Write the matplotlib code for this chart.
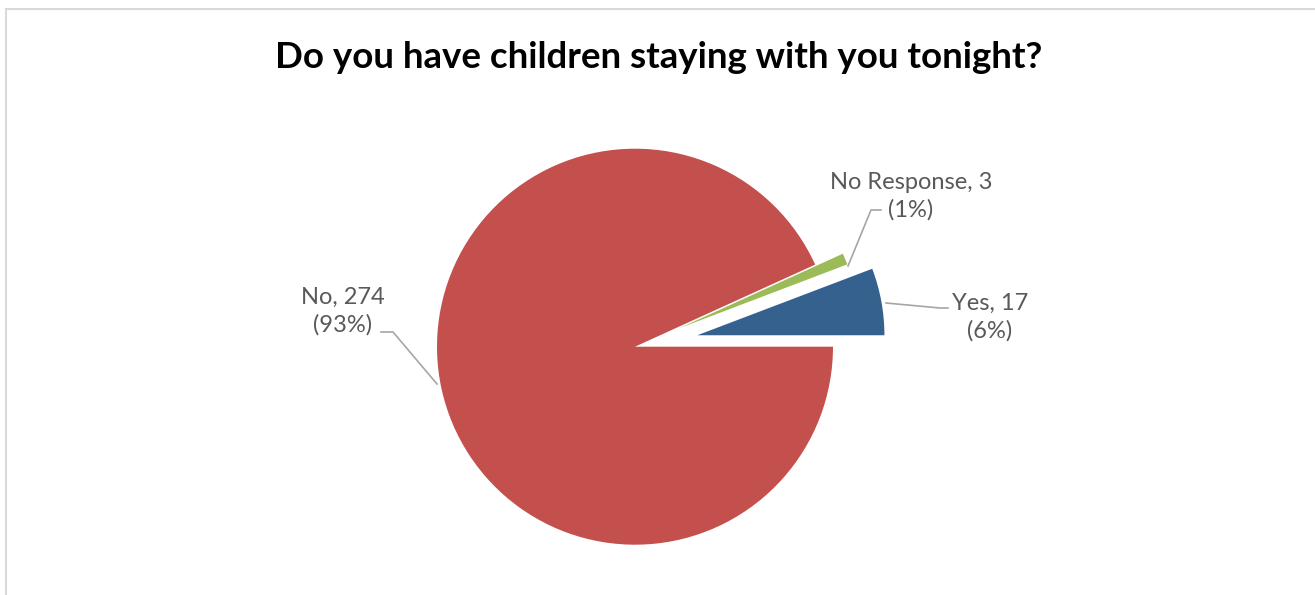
import matplotlib.pyplot as plt
from matplotlib.patches import Rectangle

plt.rcParams['font.family'] = ['Lato', 'DejaVu Sans']

categories = ["Yes", "No Response", "No"]
counts = [17, 3, 274]
percents = ["6%", "1%", "93%"]
colors = ["#35618F", "#9BBB59", "#C4504D"]
explode = [0.32, 0.24, 0.0]

W, H = 1315, 595
cx, cy, R = 635, 346.7, 198.0

fig = plt.figure(figsize=(W / 100, H / 100), dpi=100)
ax = fig.add_axes([0, 0, 1, 1])

wedges, _ = ax.pie(counts, colors=colors, explode=explode, startangle=0,
                   counterclock=True, radius=1.0)
# exploded slices come out a little smaller, like the Excel chart
wedges[0].set_radius(0.945)
wedges[1].set_radius(0.91)

# pie() resets the limits, so map pixels afterwards
ax.set_xlim(-cx / R, (W - cx) / R)
ax.set_ylim((cy - H) / R, cy / R)
ax.set_aspect('equal')
ax.axis('off')


def px(x, y):
    return (x - cx) / R, (cy - y) / R


text_color = "#595959"
line_color = "#A6A6A6"
fs = 17

# leader lines
for pts in [[(848, 266), (871, 210), (881, 210)],
            [(886, 303), (940, 308), (948, 308)],
            [(437, 384), (393, 332), (381, 332)]]:
    xs, ys = zip(*[px(*p) for p in pts])
    ax.plot(xs, ys, color=line_color, lw=1.2)

labels = [f"{c}, {n}\n({p})" for c, n, p in zip(categories, counts, percents)]
ax.text(*px(990, 317), labels[0], ha='center', va='center', fontsize=fs,
        color=text_color, linespacing=1.35)
ax.text(*px(911, 196), labels[1], ha='center', va='center', fontsize=fs,
        color=text_color, linespacing=1.35)
ax.text(*px(343, 311), labels[2], ha='center', va='center', fontsize=fs,
        color=text_color, linespacing=1.35)

fig.text(659 / W, 1 - 57 / H, "Do you have children staying with you tonight?",
         ha='center', va='center', fontsize=26.4, fontweight='bold', color='black')

fig.patches.append(Rectangle((6 / W, -0.1), 1.2, 1 - 9 / H + 0.1,
                             transform=fig.transFigure, fill=False,
                             edgecolor="#D9D9D9", lw=1.5))

fig.savefig("out.png", dpi=100)
